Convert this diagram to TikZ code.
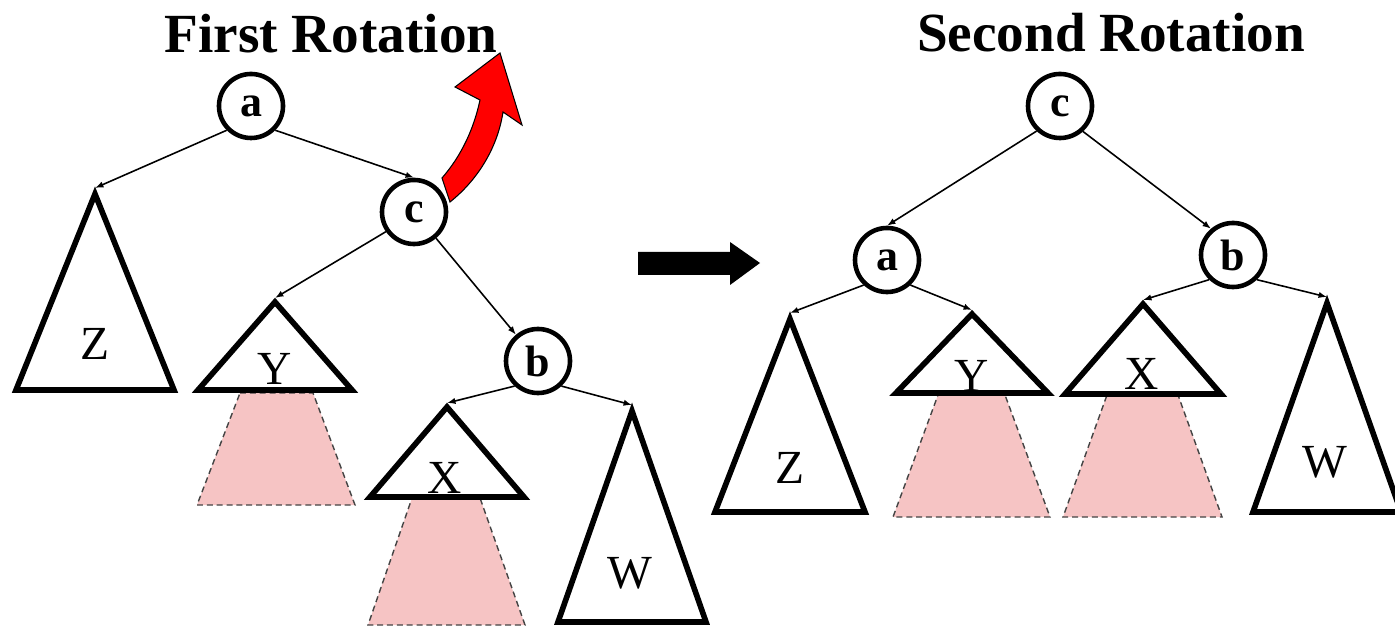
\documentclass[tikz,border=0pt]{standalone}
\usepackage{fontspec}
\setmainfont{Liberation Serif}
\usepackage{tikz}
\usetikzlibrary{arrows.meta}
\definecolor{shade}{HTML}{F6C4C4}
\definecolor{dashgray}{HTML}{444444}
\definecolor{turn}{HTML}{FF0000}

\begin{document}
\begin{tikzpicture}[x=0.01cm,y=-0.01cm,>={Latex[length=2.4pt,width=1.8pt]},
    key/.style={circle,draw,line width=1.3pt,minimum size=0.64cm,inner sep=0pt,font=\fontsize{12.5}{12.5}\selectfont\bfseries},
    subtree/.style={draw,line width=1.6pt},
    hidden/.style={fill=shade,draw=dashgray,dashed,line width=0.4pt,dash pattern=on 1.7pt off 1.1pt},
    treename/.style={anchor=base,inner sep=0pt,font=\fontsize{13.5}{13.5}\selectfont},
    title/.style={anchor=base,inner sep=0pt,font=\fontsize{15.7}{18}\selectfont\bfseries},
    link/.style={->,line width=0.45pt}]
      \useasboundingbox (0,0) rectangle (1395,631);
      \clip (0,0) rectangle (1395,631);
      \node[title] (first) at (331,53) {First Rotation};
      \node[title] (second) at (1111,52) {Second Rotation};
      % first rotation
      \node[key] (a1) at (251,106) {a};
      \node[key] (c1) at (414,212) {c};
      \node[key] (b1) at (538,361) {b};
      \coordinate (z1) at (95,188);
      \coordinate (y1) at (275,298);
      \coordinate (x1) at (447,403);
      \coordinate (w1) at (632,405);
      \filldraw[hidden] (240,393) -- (313,393) -- (355,505) -- (197,505) -- cycle;
      \filldraw[hidden] (412,498) -- (480,498) -- (525,625) -- (368,625) -- cycle;
      \draw[subtree] (z1) ++(0,6) -- ++(-79,196) -- ++(158,0) -- cycle;
      \draw[subtree] (y1) ++(0,4) -- ++(-77,88) -- ++(154,0) -- cycle;
      \draw[subtree] (x1) ++(0,4) -- ++(-77,90) -- ++(154,0) -- cycle;
      \draw[subtree] (w1) ++(0,6) -- ++(-74,211) -- ++(148,0) -- cycle;
      \node[treename] (zn1) at (95,360) {Z};
      \node[treename] (yn1) at (275,385) {Y};
      \node[treename] (xn1) at (445,493) {X};
      \node[treename] (wn1) at (630,588) {W};
      \draw[link] (a1.-135) -- (z1);
      \draw[link] (a1.-45) -- (c1.north);
      \draw[link] (c1.-145) -- (y1);
      \draw[link] (c1.-50) -- (b1.130);
      \draw[link] (b1.-133) -- (x1);
      \draw[link] (b1.-47) -- (w1);
      \filldraw[fill=turn,draw=black,line width=0.3pt] (442,178) .. controls (462,155) and (474,128) .. (480,100) -- (455,87) -- (500,53) -- (522,125) -- (503,112) .. controls (498,145) and (480,178) .. (450,202) -- cycle;
      \fill (638,252) -- (730,252) -- (730,242) -- (760,263) -- (730,285) -- (730,275) -- (638,275) -- cycle;
      % second rotation
      \node[key] (c2) at (1060,106) {c};
      \node[key] (a2) at (887,260) {a};
      \node[key] (b2) at (1233,255) {b};
      \coordinate (z2) at (790,313);
      \coordinate (y2) at (972,310);
      \coordinate (x2) at (1143,300);
      \coordinate (w2) at (1327,297);
      \filldraw[hidden] (938,395) -- (1005,395) -- (1050,517) -- (893,517) -- cycle;
      \filldraw[hidden] (1107,395) -- (1178,395) -- (1222,517) -- (1063,517) -- cycle;
      \draw[subtree] (z2) ++(0,6) -- ++(-75,193) -- ++(150,0) -- cycle;
      \draw[subtree] (y2) ++(0,4) -- ++(-76,79) -- ++(152,0) -- cycle;
      \draw[subtree] (x2) ++(0,4) -- ++(-78,90) -- ++(156,0) -- cycle;
      \draw[subtree] (w2) ++(0,6) -- ++(-74,209) -- ++(148,0) -- cycle;
      \node[treename] (zn2) at (790,483) {Z};
      \node[treename] (yn2) at (972,392) {Y};
      \node[treename] (xn2) at (1142,390) {X};
      \node[treename] (wn2) at (1325,478) {W};
      \draw[link] (c2.-133) -- (a2.north);
      \draw[link] (c2.-48) -- (b2.130);
      \draw[link] (a2.-133) -- (z2);
      \draw[link] (a2.-47) -- (y2);
      \draw[link] (b2.-134) -- (x2);
      \draw[link] (b2.-46) -- (w2);
    \end{tikzpicture}
\end{document}
